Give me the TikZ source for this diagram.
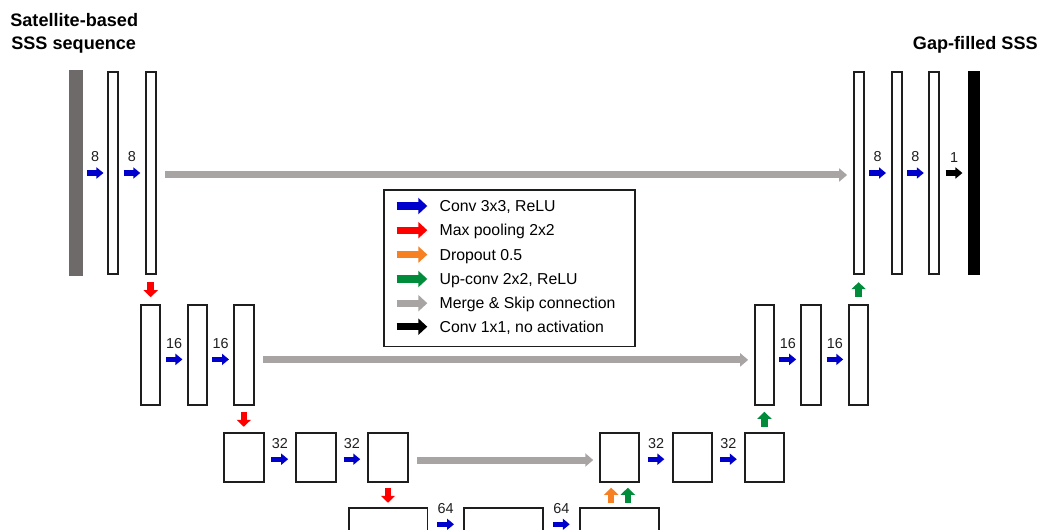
\documentclass[tikz,border=0pt]{standalone}
\usepackage{fontspec}
\setmainfont{Liberation Sans}
\usetikzlibrary{arrows.meta}
\definecolor{convblue}{RGB}{0,0,205}
\definecolor{poolred}{RGB}{255,0,0}
\definecolor{droporange}{RGB}{246,128,34}
\definecolor{upgreen}{RGB}{0,140,58}
\definecolor{skipgray}{RGB}{168,164,164}
\definecolor{bargray}{RGB}{110,106,106}
\definecolor{boxline}{RGB}{30,30,30}
\tikzset{
  cellbox/.style={draw=boxline, line width=0.04cm, fill=white, inner sep=0pt},
  convarrow/.style={convblue, line width=0.106cm, -{Triangle[length=0.14cm,width=0.22cm]}},
  outarrow/.style={convarrow, black},
  vertarrow/.style={line width=0.13cm, -{Triangle[length=0.14cm,width=0.28cm]}},
  poolarrow/.style={vertarrow, poolred},
  droparrow/.style={vertarrow, droporange},
  uparrow/.style={vertarrow, upgreen},
  skiparrow/.style={skipgray, line width=0.14cm, -{Triangle[length=0.16cm,width=0.26cm]}, shorten <=0.17cm, shorten >=0.11cm},
  lbl/.style={above=4.7pt, inner sep=0pt, text=black!88, font=\fontsize{8.2}{9}\selectfont},
  legarrow/.style={line width=0.146cm, -{Triangle[length=0.18cm,width=0.32cm]}},
  legtext/.style={anchor=west, inner sep=0pt, text height=6.4pt, text depth=0pt, font=\fontsize{9}{11}\selectfont},
  titletext/.style={inner sep=0pt, font=\fontsize{10.3}{12}\selectfont\bfseries},
}
\newcommand\unetbox[5]{\node[cellbox, minimum width=#4cm, minimum height=#5cm] (#1) at (#2,#3) {};}
% horizontal short arrow centred between two node anchors, with label above
\newcommand\hconn[5]{%
  \path #2 -- coordinate[midway] (m-#4) #3;
  \draw[#1] ([xshift=-0.167cm]m-#4) -- node[lbl] (#4) {#5} ([xshift=0.167cm]m-#4);}
% vertical short arrows centred between two node anchors
\newcommand\downconn[4]{%
  \path #2 -- coordinate[midway] (#4) #3;
  \draw[#1] ([yshift=0.15cm]#4) -- ([yshift=-0.15cm]#4);}
\newcommand\upconn[4]{%
  \path #2 -- coordinate[midway] (#4) #3;
  \draw[#1] ([yshift=-0.15cm]#4) -- ([yshift=0.15cm]#4);}
\begin{document}
\begin{tikzpicture}[x=0.02cm,y=-0.02cm]
\path[use as bounding box, clip] (0,0) rectangle (1040,530);
% titles
\node[titletext, anchor=base west] (tl1) at (10,26.7) {Satellite-based};
\node[titletext, anchor=base west] (tl2) at (11,49.3) {SSS sequence};
\node[titletext, anchor=base east] (tr) at (1038,49.3) {Gap-filled SSS};
% level 1
\node[fill=bargray, inner sep=0pt, minimum width=0.268cm, minimum height=4.12cm] (inp) at (76,173) {};
\unetbox{e1a}{113.2}{173}{0.2}{4.04}
\unetbox{e1b}{150.7}{173}{0.2}{4.04}
\unetbox{d1a}{858.6}{173}{0.2}{4.04}
\unetbox{d1b}{896.7}{173}{0.2}{4.04}
\unetbox{d1c}{934.2}{173}{0.2}{4.04}
\node[fill=black, inner sep=0pt, minimum width=0.24cm, minimum height=4.08cm] (out) at (974.3,173) {};
% level 2
\unetbox{e2a}{150.7}{355.4}{0.39}{2.0}
\unetbox{e2b}{197.5}{355.4}{0.39}{2.0}
\unetbox{e2c}{243.8}{355.4}{0.39}{2.0}
\unetbox{d2a}{764.4}{355.4}{0.39}{2.0}
\unetbox{d2b}{811.2}{355.4}{0.39}{2.0}
\unetbox{d2c}{858.6}{355.4}{0.39}{2.0}
% level 3
\unetbox{e3a}{243.8}{457.7}{0.79}{0.98}
\unetbox{e3b}{315.8}{457.7}{0.79}{0.98}
\unetbox{e3c}{388}{457.7}{0.79}{0.98}
\unetbox{d3a}{619.5}{457.7}{0.79}{0.98}
\unetbox{d3b}{692.5}{457.7}{0.79}{0.98}
\unetbox{d3c}{764.4}{457.7}{0.79}{0.98}
% level 4
\unetbox{b4a}{388}{538.3}{1.58}{1.2}
\unetbox{b4b}{503.3}{538.3}{1.58}{1.2}
\unetbox{b4c}{619.5}{538.3}{1.58}{1.2}
% level 1 connectors
\hconn{convarrow}{(inp.east)}{(e1a.west)}{n1}{8}
\hconn{convarrow}{(e1a.east)}{(e1b.west)}{n2}{8}
\draw[skiparrow] ([yshift=-0.04cm]e1b.east) -- ([yshift=-0.04cm]d1a.west);
\hconn{convarrow}{(d1a.east)}{(d1b.west)}{n3}{8}
\hconn{convarrow}{(d1b.east)}{(d1c.west)}{n4}{8}
\hconn{outarrow}{(d1c.east)}{(out.west)}{n5}{1}
% level 2 connectors
\downconn{poolarrow}{(e1b.south)}{(e2a.north)}{p1}
\hconn{convarrow}{([yshift=-0.08cm]e2a.east)}{([yshift=-0.08cm]e2b.west)}{n6}{16}
\hconn{convarrow}{([yshift=-0.08cm]e2b.east)}{([yshift=-0.08cm]e2c.west)}{n7}{16}
\draw[skiparrow] ([yshift=-0.09cm]e2c.east) -- ([yshift=-0.09cm]d2a.west);
\hconn{convarrow}{([yshift=-0.08cm]d2a.east)}{([yshift=-0.08cm]d2b.west)}{n8}{16}
\hconn{convarrow}{([yshift=-0.08cm]d2b.east)}{([yshift=-0.08cm]d2c.west)}{n9}{16}
\upconn{uparrow}{(d2c.north)}{(d1a.south)}{u1}
% level 3 connectors
\downconn{poolarrow}{(e2c.south)}{(e3a.north)}{p2}
\hconn{convarrow}{([yshift=-0.03cm]e3a.east)}{([yshift=-0.03cm]e3b.west)}{n10}{32}
\hconn{convarrow}{([yshift=-0.03cm]e3b.east)}{([yshift=-0.03cm]e3c.west)}{n11}{32}
\draw[skiparrow] ([yshift=-0.046cm]e3c.east) -- ([yshift=-0.046cm]d3a.west);
\hconn{convarrow}{([yshift=-0.03cm]d3a.east)}{([yshift=-0.03cm]d3b.west)}{n12}{32}
\hconn{convarrow}{([yshift=-0.03cm]d3b.east)}{([yshift=-0.03cm]d3c.west)}{n13}{32}
\upconn{uparrow}{(d3c.north)}{(d2a.south)}{u2}
% level 4 connectors
\downconn{poolarrow}{(e3c.south)}{(b4a.north)}{p3}
\hconn{convarrow}{([yshift=-0.34cm]b4a.north east)}{([yshift=-0.34cm]b4b.north west)}{n14}{64}
\hconn{convarrow}{([yshift=-0.34cm]b4b.north east)}{([yshift=-0.34cm]b4c.north west)}{n15}{64}
\upconn{droparrow}{([xshift=-0.166cm]b4c.north)}{([xshift=-0.166cm]d3a.south)}{o1}
\upconn{uparrow}{([xshift=0.166cm]b4c.north)}{([xshift=0.166cm]d3a.south)}{u3}
% legend
\node[draw=boxline, line width=0.03cm, fill=white, inner sep=0pt, minimum width=5.02cm, minimum height=3.134cm] (legend) at (509.5,268.35) {};
\node[legtext] (t1) at (439.3,206) {Conv 3x3, ReLU};
\node[legtext] (t2) at (439.3,230.2) {Max pooling 2x2};
\node[legtext] (t3) at (439.3,254.6) {Dropout 0.5};
\node[legtext] (t4) at (439.3,279) {Up-conv 2x2, ReLU};
\node[legtext] (t5) at (439.3,303.2) {Merge \& Skip connection};
\node[legtext] (t6) at (439.3,326.7) {Conv 1x1, no activation};
\draw[legarrow, convblue] ([xshift=-0.852cm]t1.west) -- ([xshift=-0.24cm]t1.west);
\draw[legarrow, poolred] ([xshift=-0.852cm]t2.west) -- ([xshift=-0.24cm]t2.west);
\draw[legarrow, droporange] ([xshift=-0.852cm]t3.west) -- ([xshift=-0.24cm]t3.west);
\draw[legarrow, upgreen] ([xshift=-0.852cm]t4.west) -- ([xshift=-0.24cm]t4.west);
\draw[legarrow, skipgray] ([xshift=-0.852cm]t5.west) -- ([xshift=-0.24cm]t5.west);
\draw[legarrow, black] ([xshift=-0.852cm]t6.west) -- ([xshift=-0.24cm]t6.west);
\end{tikzpicture}
\end{document}
